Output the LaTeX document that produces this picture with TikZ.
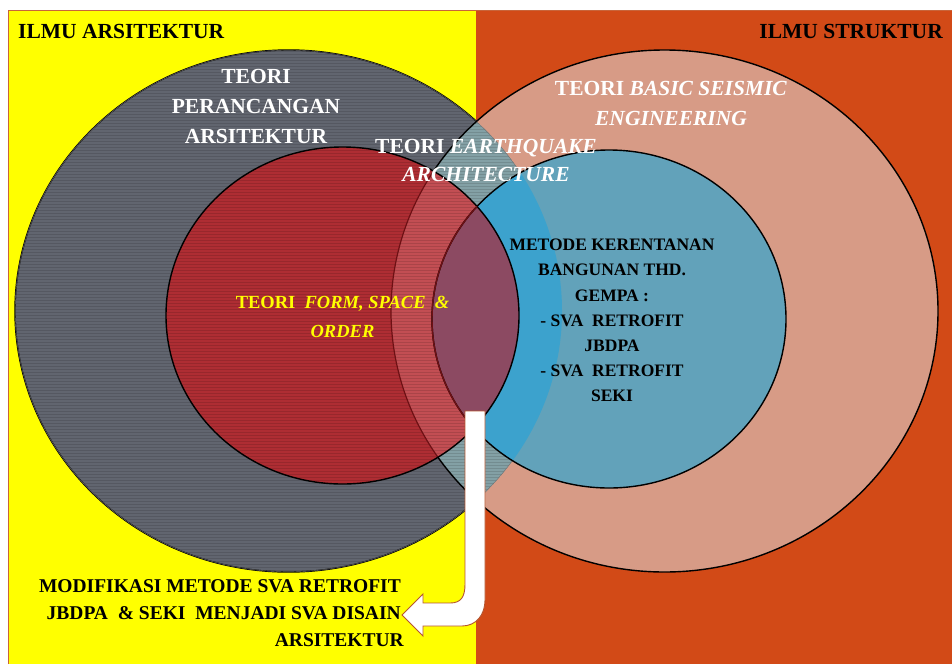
\documentclass[tikz,border=0pt]{standalone}
\usepackage{fontspec}
\setmainfont{Liberation Serif}
\usetikzlibrary{patterns}
\definecolor{bgyellow}{HTML}{FFFF00}
\definecolor{bgorange}{HTML}{D24A17}
\definecolor{framec}{HTML}{C8643A}
\definecolor{grayc}{HTML}{61656F}
\definecolor{pinkc}{HTML}{D79B86}
\definecolor{redc}{HTML}{AE2D33}
\definecolor{bluec}{HTML}{62A2BA}
\definecolor{lensc}{HTML}{83A0A5}
\definecolor{redpinkc}{HTML}{C24E53}
\definecolor{mauvec}{HTML}{8C4A62}
\definecolor{cyanc}{HTML}{3CA2CD}
\definecolor{darkredc}{HTML}{6E1014}
\definecolor{arrowline}{HTML}{B5552F}
\begin{document}
\begin{tikzpicture}[x=1pt,y=-1pt,
  ring/.style={draw=black, line width=1.4pt},
  weave/.style={pattern=horizontal lines, pattern color=black, opacity=0.12},
  wtext/.style={text=white, inner sep=0pt, anchor=base},
  btext/.style={text=black, inner sep=0pt, anchor=base},
  ytext/.style={text=bgyellow, inner sep=0pt, anchor=base},
  bigfont/.style={font=\fontsize{21.5}{26}\selectfont\bfseries},
  midfont/.style={font=\fontsize{18.5}{22}\selectfont\bfseries},
  smallfont/.style={font=\fontsize{17.5}{21}\selectfont\bfseries},
  notefont/.style={font=\fontsize{19.5}{23}\selectfont\bfseries},
  grayE/.style={insert path={(cg) ellipse [x radius=273.5pt, y radius=261pt]}},
  pinkE/.style={insert path={(cp) ellipse [x radius=273.5pt, y radius=261pt]}},
  redE/.style={insert path={(cr) ellipse [x radius=176.5pt, y radius=168.5pt]}},
  blueE/.style={insert path={(cb) ellipse [x radius=177pt, y radius=169pt]}}]

\useasboundingbox (0,0) rectangle (952,664);

% ellipse centres
\coordinate (cg) at (288.5,311);
\coordinate (cp) at (664.5,311);
\coordinate (cr) at (342.5,315.5);
\coordinate (cb) at (609,319);

% slide background: two halves
\fill[white] (0,0) rectangle (952,664);
\fill[bgyellow] (8,10) rectangle (476,664);
\fill[bgorange] (476,10) rectangle (952,664);
\draw[framec, line width=0.8pt] (8,664) -- (8,10) -- (952,10);

% outer field: architecture (woven texture)
\fill[grayc, grayE];
\path[weave, grayE];
\draw[ring, grayE];

% outer field: structure
\fill[pinkc, pinkE];
\begin{scope}
  \clip[grayE];
  \fill[lensc, pinkE];
  \path[weave, pinkE];
  \draw[draw=black!55, line width=0.8pt, grayE];
\end{scope}
\draw[ring, pinkE];

% inner field: form, space and order
\fill[redc, redE];
\begin{scope}
  \clip[redE];
  \fill[redpinkc, pinkE];
\end{scope}
\path[weave, redE];
\begin{scope}
  \clip[redE];
  \draw[draw=darkredc, line width=1.2pt, pinkE];
\end{scope}
\draw[ring, redE];

% inner field: vulnerability methods
\fill[bluec, blueE];
\begin{scope}
  \clip[blueE];
  \fill[cyanc, grayE];
  \fill[mauvec, redE];
  \draw[draw=black, line width=1.4pt, redE];
\end{scope}
\draw[ring, blueE];
\begin{scope}
  \clip[redE];
  \draw[draw=darkredc, line width=1.4pt, blueE];
\end{scope}

% U-turn arrow towards the conclusion
\draw[fill=white, draw=arrowline, line width=0.9pt, line join=miter]
  (465,411) -- (465,584)
  .. controls (465,597) and (461,603) .. (450,603)
  -- (423,603) -- (423,594) -- (402,615) -- (423,636) -- (423,626)
  -- (462,626)
  .. controls (476,626) and (485,615) .. (485,600)
  -- (485,411) -- cycle;

% field titles
\node[btext, bigfont, anchor=base west] (ars) at (18,38) {ILMU ARSITEKTUR};
\node[btext, bigfont, anchor=base east] (str) at (943,38) {ILMU STRUKTUR};

% theory of architectural design
\node[wtext, bigfont] (pa1) at (256,83) {TEORI};
\node[wtext, bigfont] (pa2) at (256,113) {PERANCANGAN};
\node[wtext, bigfont] (pa3) at (256,143) {ARSITEKTUR};

% theory of earthquake architecture
\node[wtext, bigfont] (ea1) at (486,153) {TEORI \textit{EARTHQUAKE}};
\node[wtext, bigfont] (ea2) at (486,181) {\textit{ARCHITECTURE}};

% theory of basic seismic engineering
\node[wtext, bigfont] (bs1) at (671,95) {TEORI \textit{BASIC SEISMIC}};
\node[wtext, bigfont] (bs2) at (671,125) {\textit{ENGINEERING}};

% theory of form, space and order
\node[ytext, midfont] (fs1) at (342.5,308) {TEORI\ \ \textit{FORM, SPACE}\ \ \textit{\&}};
\node[ytext, midfont] (fs2) at (342.5,337) {\textit{ORDER}};

% vulnerability assessment methods
\node[btext, smallfont] (mk1) at (612,250) {METODE KERENTANAN};
\node[btext, smallfont] (mk2) at (612,275) {BANGUNAN THD.};
\node[btext, smallfont] (mk3) at (612,301) {GEMPA :};
\node[btext, smallfont] (mk4) at (612,326.5) {- SVA\ \ RETROFIT};
\node[btext, smallfont] (mk5) at (612,351.5) {JBDPA};
\node[btext, smallfont] (mk6) at (612,376.5) {- SVA\ \ RETROFIT};
\node[btext, smallfont] (mk7) at (612,401.5) {SEKI};

% conclusion
\node[btext, notefont, anchor=base east] (md1) at (401,592) {MODIFIKASI METODE SVA RETROFIT};
\node[btext, notefont, anchor=base east] (md2) at (401,619) {JBDPA\ \ \& SEKI\ \ MENJADI SVA DISAIN};
\node[btext, notefont, anchor=base east] (md3) at (404,646) {ARSITEKTUR};

\end{tikzpicture}
\end{document}
